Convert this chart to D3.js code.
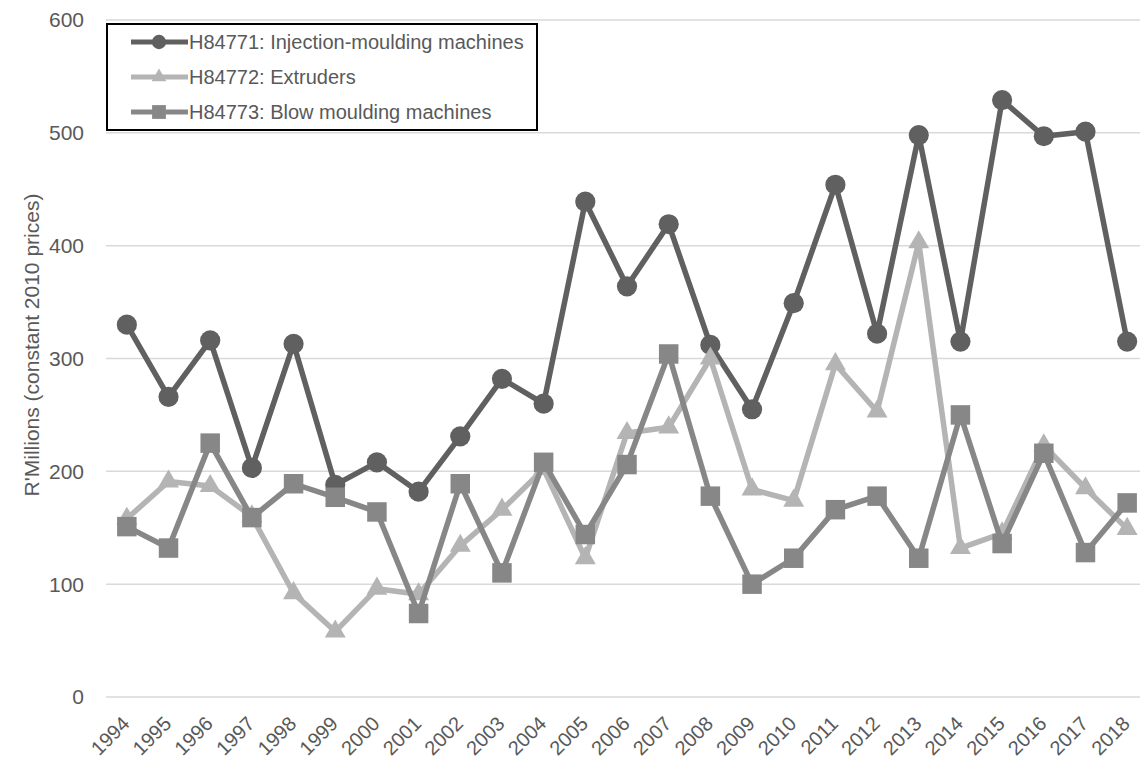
<!DOCTYPE html>
<html>
<head>
<meta charset="utf-8">
<script src="https://cdn.jsdelivr.net/npm/d3@7"></script>
<style>
  body { margin: 0; background: #fff; }
  text { font-family: "Liberation Sans", Arial, sans-serif; fill: #595959; }
</style>
</head>
<body>
<script>
// Daten
const years = d3.range(1994, 2019).map(String);
const injection = [330, 266, 316, 203, 313, 188, 208, 182, 231, 282, 260, 439, 364, 419, 312, 255, 349, 454, 322, 498, 315, 529, 497, 501, 315];
const extruders = [158, 191, 187, 160, 92, 58, 96, 91, 134, 166, 202, 123, 234, 239, 300, 184, 174, 295, 253, 403, 132, 145, 223, 185, 149];
const blow = [151, 132, 225, 159, 189, 177, 164, 74, 189, 110, 208, 144, 206, 304, 178, 100, 123, 166, 178, 123, 250, 136, 216, 128, 172];
const yTicks = [0, 100, 200, 300, 400, 500, 600];

const series = [
    { name: 'H84771: Injection-moulding machines', values: injection, color: '#606060', symbol: d3.symbolCircle, size: 320 },
    { name: 'H84772: Extruders', values: extruders, color: '#b4b4b4', symbol: d3.symbolTriangle, size: 190 },
    { name: 'H84773: Blow moulding machines', values: blow, color: '#878787', symbol: d3.symbolSquare, size: 380 }
];

const width = 1140, height = 762;
const plotLeft = 106, plotRight = 1148, plotTop = 20, plotBottom = 697;

const svg = d3.select('body').append('svg')
    .attr('width', width)
    .attr('height', height);

const x = d3.scaleBand()
    .domain(years)
    .range([plotLeft, plotRight])
    .padding(0);

const y = d3.scaleLinear()
    .domain([0, 600])
    .range([plotBottom, plotTop]);

const cx = d => x(d) + x.bandwidth() / 2;

// Gitterlinien
svg.append('g').selectAll('line')
    .data(yTicks)
    .enter().append('line')
    .attr('x1', plotLeft)
    .attr('x2', width)
    .attr('y1', d => y(d))
    .attr('y2', d => y(d))
    .attr('stroke', '#d9d9d9')
    .attr('stroke-width', 1.5);

// Y-Achse
svg.append('g').selectAll('text')
    .data(yTicks)
    .enter().append('text')
    .attr('x', 84)
    .attr('y', d => y(d))
    .attr('dy', '0.35em')
    .attr('text-anchor', 'end')
    .style('font-size', '21px')
    .text(d => d);

svg.append('text')
    .attr('transform', 'translate(39,345) rotate(-90)')
    .attr('text-anchor', 'middle')
    .style('font-size', '21px')
    .text("R'Millions (constant 2010 prices)");

// X-Achse
svg.append('g').selectAll('text')
    .data(years)
    .enter().append('text')
    .attr('transform', d => 'translate(' + (cx(d) + 4) + ',725) rotate(-45)')
    .attr('text-anchor', 'end')
    .style('font-size', '20px')
    .text(d => d);

// Linien
const line = d3.line()
    .x((d, i) => cx(years[i]))
    .y(d => y(d));

const g = svg.append('g');
series.forEach(s => {
    g.append('path')
        .datum(s.values)
        .attr('fill', 'none')
        .attr('stroke', s.color)
        .attr('stroke-width', 5.5)
        .attr('stroke-linejoin', 'round')
        .attr('d', line);
    g.selectAll(null)
        .data(s.values)
        .enter().append('path')
        .attr('transform', (d, i) => 'translate(' + cx(years[i]) + ',' + y(d) + ')')
        .attr('d', d3.symbol().type(s.symbol).size(s.size))
        .attr('fill', s.color);
});

// Legende
const legend = svg.append('g');
legend.append('rect')
    .attr('x', 107)
    .attr('y', 24)
    .attr('width', 430)
    .attr('height', 106)
    .attr('fill', '#fff')
    .attr('stroke', '#000')
    .attr('stroke-width', 2);

const rows = legend.selectAll('g.row')
    .data(series)
    .enter().append('g')
    .attr('class', 'row')
    .attr('transform', (d, i) => 'translate(0,' + (42 + i * 35) + ')');

rows.append('line')
    .attr('x1', 131).attr('x2', 188)
    .attr('stroke', d => d.color)
    .attr('stroke-width', 5);
rows.append('path')
    .attr('transform', 'translate(159,0)')
    .attr('d', d => d3.symbol().type(d.symbol).size(d.size * 0.5)())
    .attr('fill', d => d.color);
rows.append('text')
    .attr('x', 189)
    .attr('dy', '0.35em')
    .style('font-size', '20px')
    .text(d => d.name);
</script>
</body>
</html>
